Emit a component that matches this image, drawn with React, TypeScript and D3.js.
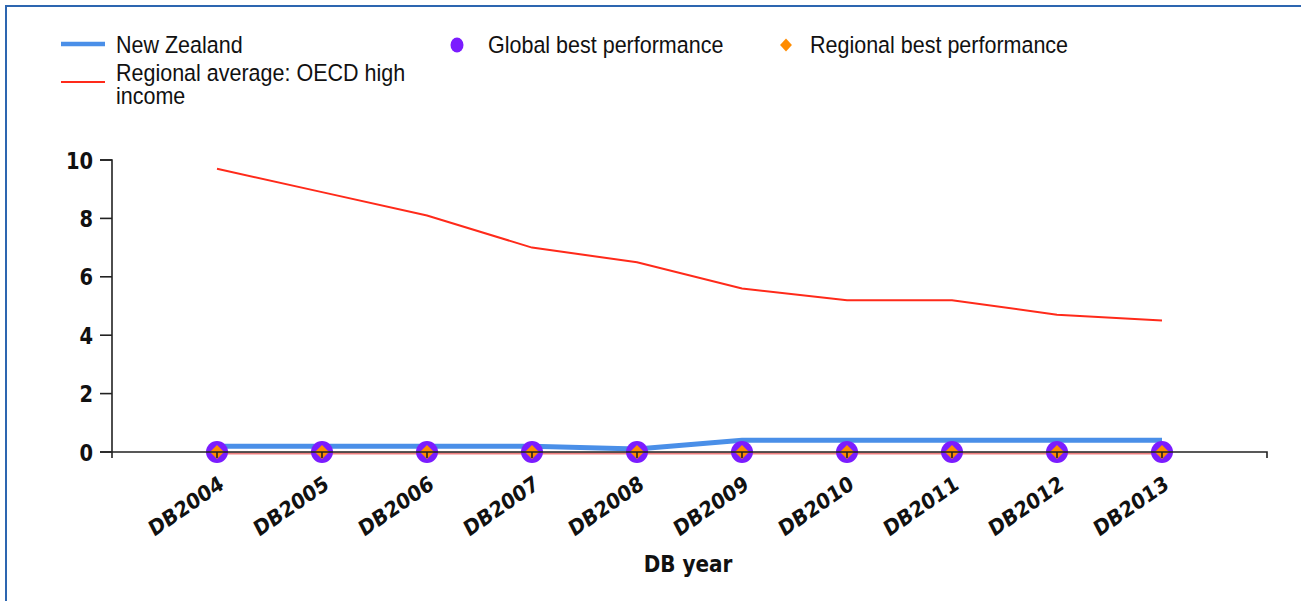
import React from "react";
import * as d3 from "d3";

const years = ["DB2004", "DB2005", "DB2006", "DB2007", "DB2008", "DB2009", "DB2010", "DB2011", "DB2012", "DB2013"];
const newZealand = [0.2, 0.2, 0.2, 0.2, 0.1, 0.4, 0.4, 0.4, 0.4, 0.4];
const regionalAverage = [9.7, 8.9, 8.1, 7.0, 6.5, 5.6, 5.2, 5.2, 4.7, 4.5];
const globalBest = [0, 0, 0, 0, 0, 0, 0, 0, 0, 0];
const regionalBest = [0, 0, 0, 0, 0, 0, 0, 0, 0, 0];
const yTicks = [0, 2, 4, 6, 8, 10];

const W = 1301;
const H = 601;
const X0 = 112;
const X1 = 1267;
const Y0 = 452;
const Y1 = 160;

const BLUE = "#4a8fe8";
const RED = "#ff2a1a";
const PURPLE = "#7b1cff";
const ORANGE = "#ff8c00";
const AXIS = "#222";

function T({ x, y, sy = 1.1, rot = 0, anchor = "start", size, weight = "normal", family, children }: any) {
  return (
    <text
      transform={`translate(${x},${y}) scale(1,${sy}) rotate(${rot})`}
      textAnchor={anchor}
      fontSize={size}
      fontWeight={weight}
      fontFamily={family}
      fill="#111"
    >
      {children}
    </text>
  );
}

export default function App() {
  const x = d3.scalePoint<string>().domain(years).range([X0, X1]).padding(1);
  const y = d3.scaleLinear().domain([0, 10]).range([Y0, Y1]);
  const line = d3
    .line<number>()
    .x((_, i) => x(years[i]) as number)
    .y((d) => y(d));
  const diamond = d3.symbol().type(d3.symbolDiamond2).size(125)();
  const legDiamond = d3.symbol().type(d3.symbolDiamond2).size(90)();
  const legendFont = "'Liberation Sans', Arial, sans-serif";
  const axisFont = "'DejaVu Sans', Verdana, sans-serif";

  return (
    <svg width={W} height={H} style={{ position: "absolute", left: 0, top: 0, background: "#fff" }}>
      {/* frame */}
      <line x1={5} y1={6} x2={W} y2={6} stroke="#2d66b0" strokeWidth={2} />
      <line x1={6} y1={5} x2={6} y2={H} stroke="#2d66b0" strokeWidth={2} />

      {/* legend */}
      <line x1={61} y1={44} x2={105} y2={44} stroke={BLUE} strokeWidth={4.5} />
      <T x={116} y={52.5} size={21.5} family={legendFont}>New Zealand</T>
      <line x1={61} y1={82} x2={105} y2={82} stroke={RED} strokeWidth={2} />
      <T x={116} y={81} size={21.5} family={legendFont}>Regional average: OECD high</T>
      <T x={116} y={103.5} size={21.5} family={legendFont}>income</T>
      <ellipse cx={457} cy={45} rx={6.5} ry={7.5} fill={PURPLE} />
      <T x={488} y={52.5} size={21.5} family={legendFont}>Global best performance</T>
      <path d={legDiamond} transform="translate(786,45) scale(1,1.1)" fill={ORANGE} />
      <T x={810} y={52.5} size={21.5} family={legendFont}>Regional best performance</T>

      {/* series lines */}
      <path d={line(regionalAverage) as string} fill="none" stroke={RED} strokeWidth={2} />
      <path d={line(regionalBest) as string} transform="translate(0,1.5)" fill="none" stroke="#f08080" strokeWidth={2} />
      <path d={line(newZealand) as string} fill="none" stroke={BLUE} strokeWidth={5} />

      {/* markers */}
      {globalBest.map((v, i) => (
        <circle key={"g" + i} cx={x(years[i])} cy={y(v)} r={11} fill={PURPLE} />
      ))}
      {regionalBest.map((v, i) => (
        <path key={"r" + i} d={diamond} transform={`translate(${x(years[i])},${y(v)})`} fill={ORANGE} />
      ))}

      {/* axes */}
      <path d={`M${X0 - 12},${Y1} H${X0} V${Y0 + 6}`} fill="none" stroke={AXIS} strokeWidth={1.6} />
      <path d={`M${X0 - 12},${Y0} H${X1} V${Y0 + 6}`} fill="none" stroke={AXIS} strokeWidth={1.6} />
      {yTicks.map((t) => (
        <g key={"yt" + t}>
          <line x1={X0 - 12} x2={X0} y1={y(t)} y2={y(t)} stroke={AXIS} strokeWidth={1.6} />
          <T x={93} y={y(t) + 8.5} sy={1.2} anchor="end" size={19.5} weight="bold" family={axisFont}>
            {t}
          </T>
        </g>
      ))}
      {years.map((c) => (
        <g key={"xt" + c}>
          <line x1={x(c)} x2={x(c)} y1={Y0} y2={Y0 + 6} stroke={AXIS} strokeWidth={1.6} />
          <T x={(x(c) as number) + 8} y={488} sy={1.15} rot={-31} anchor="end" size={19} weight="bold" family={axisFont}>
            {c}
          </T>
        </g>
      ))}
      <T x={688} y={572} sy={1.15} anchor="middle" size={20} weight="bold" family={axisFont}>
        DB year
      </T>
    </svg>
  );
}
